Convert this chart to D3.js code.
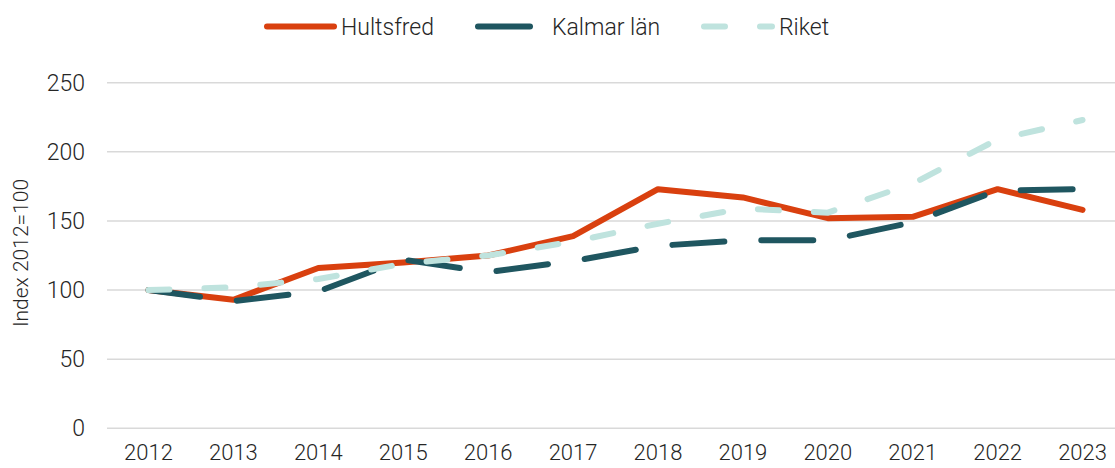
<!DOCTYPE html>
<html>
<head>
<meta charset="utf-8">
<script src="https://cdn.jsdelivr.net/npm/d3@7"></script>
<style>
  body { margin: 0; background: #fff; }
  svg { display: block; font-family: Roboto, "Open Sans", sans-serif; font-weight: 300; }
</style>
</head>
<body>
<svg id="chart" width="1115" height="468"></svg>
<script>
const years = ['2012', '2013', '2014', '2015', '2016', '2017', '2018', '2019', '2020', '2021', '2022', '2023'];
const hultsfred = [100, 93, 116, 120, 125, 139, 173, 167, 152, 153, 173, 158];
const kalmar = [100, 92, 99, 122, 113, 121, 132, 136, 136, 149, 172, 173];
const riket = [100, 102, 108, 119, 125, 135, 148, 159, 156, 177, 209, 223];
const yTicks = [0, 50, 100, 150, 200, 250];

const series = [
  { name: 'Hultsfred', values: hultsfred, color: '#d9400f', dash: null },
  { name: 'Kalmar län', values: kalmar, color: '#1f5660', dash: '52,37' },
  { name: 'Riket', values: riket, color: '#bfe3de', dash: '21,35' }
];

const svg = d3.select('#chart');
const W = 1115, H = 468;

// scales - plot area runs past the right edge, like the original
const x = d3.scaleBand().domain(years).range([106, 1125]);
const y = d3.scaleLinear().domain([0, 250]).range([428.3, 82.7]);
const cx = d => x(d) + x.bandwidth() / 2;

// gridlines
svg.append('g')
  .selectAll('line')
  .data(yTicks)
  .join('line')
  .attr('x1', 107).attr('x2', W)
  .attr('y1', d => y(d)).attr('y2', d => y(d))
  .attr('stroke', '#d9d9d9')
  .attr('stroke-width', 1.5);

// y axis labels
const yAxis = svg.append('g')
  .attr('transform', 'translate(87,0)')
  .call(d3.axisLeft(y).tickValues(yTicks).tickSize(0).tickPadding(2));
yAxis.select('.domain').remove();
yAxis.selectAll('text')
  .attr('font-size', 23).attr('font-family', 'Roboto').attr('font-weight', 300)
  .attr('fill', '#262626');

// x axis labels (kept just inside the bottom edge)
const xAxis = svg.append('g')
  .attr('transform', 'translate(0,444)')
  .call(d3.axisBottom(x).tickSize(0).tickPadding(0));
xAxis.select('.domain').remove();
xAxis.selectAll('text')
  .attr('font-size', 22).attr('font-family', 'Roboto').attr('font-weight', 300)
  .attr('fill', '#262626');

// y axis title
svg.append('text')
  .attr('transform', 'translate(28,253) rotate(-90)')
  .attr('text-anchor', 'middle')
  .attr('font-size', 21)
  .attr('fill', '#262626')
  .text('Index 2012=100');

// lines
const line = d3.line()
  .x((d, i) => cx(years[i]))
  .y(d => y(d));

svg.append('g')
  .selectAll('path')
  .data(series)
  .join('path')
  .attr('d', d => line(d.values))
  .attr('fill', 'none')
  .attr('stroke', d => d.color)
  .attr('stroke-width', 6)
  .attr('stroke-linecap', 'round')
  .attr('stroke-linejoin', 'round')
  .attr('stroke-dasharray', d => d.dash);

// legend
const legendPos = [
  { x1: 267, x2: 334, tx: 341 },
  { x1: 478, x2: 535, tx: 552 },
  { x1: 704, x2: 772, tx: 779 }
];
const legend = svg.append('g');
series.forEach((s, i) => {
  const p = legendPos[i];
  legend.append('line')
    .attr('x1', p.x1).attr('x2', p.x2)
    .attr('y1', 26.5).attr('y2', 26.5)
    .attr('stroke', s.color)
    .attr('stroke-width', 6)
    .attr('stroke-linecap', 'round')
    .attr('stroke-dasharray', s.dash);
  legend.append('text')
    .attr('x', p.tx).attr('y', 34.5)
    .attr('font-size', 23)
    .attr('fill', '#262626')
    .text(s.name);
});
</script>
</body>
</html>
